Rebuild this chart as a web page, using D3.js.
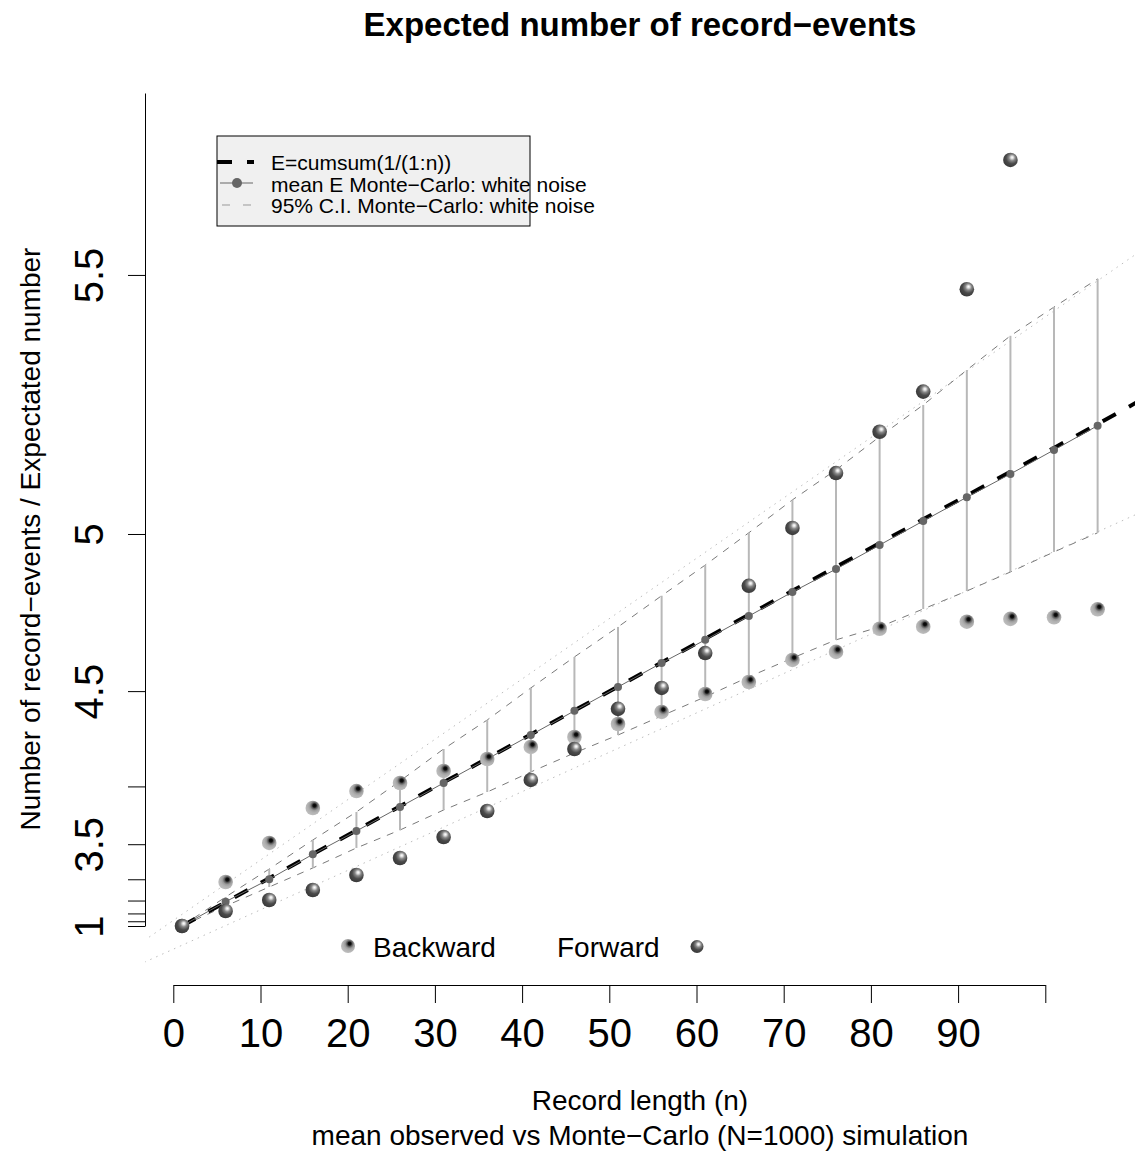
<!DOCTYPE html>
<html>
<head>
<meta charset="utf-8">
<script src="https://cdn.jsdelivr.net/npm/d3@7"></script>
<style>
  body { margin: 0; background: white; }
  text { font-family: "Liberation Sans", Arial, Helvetica, sans-serif; }
</style>
</head>
<body>
<div id="container"></div>
<script>
/* CONSTANTS AND GLOBALS */
const width = 1138;
const height = 1162;
const plot = { left: 145, right: 1135, top: 93, bottom: 985 };

/* DATA */
// record lengths where the simulation was evaluated
const recordLength = [1, 6, 11, 16, 21, 26, 31, 36, 41, 46, 51, 56, 61, 66, 71, 76, 81, 86, 91, 96, 101, 106];
const meanMonteCarlo = [1.0, 2.464, 3.0, 3.38, 3.638, 3.849, 4.023, 4.171, 4.3, 4.415, 4.517, 4.61, 4.692, 4.77, 4.843, 4.908, 4.972, 5.032, 5.088, 5.14, 5.191, 5.24];
const ciUpper = [1.0, 2.603, 3.174, 3.546, 3.809, 4.036, 4.227, 4.373, 4.513, 4.632, 4.735, 4.832, 4.919, 5.003, 5.082, 5.149, 5.218, 5.28, 5.344, 5.403, 5.45, 5.494];
const ciLower = [1.0, 2.318, 2.846, 3.19, 3.457, 3.648, 3.825, 3.961, 4.094, 4.205, 4.3, 4.392, 4.476, 4.557, 4.628, 4.692, 4.735, 4.792, 4.846, 4.9, 4.954, 5.003];
const backward = [1.0, 2.948, 3.514, 3.841, 3.968, 4.023, 4.1, 4.171, 4.238, 4.29, 4.354, 4.41, 4.488, 4.537, 4.621, 4.65, 4.729, 4.736, 4.752, 4.761, 4.766, 4.791];
const forward = [1.0, 2.116, 2.516, 2.779, 3.076, 3.332, 3.578, 3.817, 4.043, 4.227, 4.424, 4.513, 4.646, 4.861, 5.015, 5.142, 5.228, 5.305, 5.478, 5.661, null, null];

// E = cumsum(1/(1:n))
const expectedN = [1, 6, 11, 16, 21, 26, 31, 36, 41, 46, 51, 56, 61, 66, 71, 76, 81, 86, 91, 96, 101, 106, 111, 116];
const expectedE = [1.0, 2.45, 3.0199, 3.3807, 3.6454, 3.8544, 4.0272, 4.1746, 4.3029, 4.4166, 4.5188, 4.6115, 4.6962, 4.7741, 4.8464, 4.9137, 4.9767, 5.036, 5.0919, 5.1448, 5.1951, 5.2434, 5.2895, 5.3334];

// dotted trend lines of the C.I. bounds (in plotted exp units)
const trendN = [-4, 112];
const upperTrend = [-4.17, 256.0];
const lowerTrend = [-11.75, 158.0];

const xTicks = [0, 10, 20, 30, 40, 50, 60, 70, 80, 90, 100];
const xTickLabels = ["0", "10", "20", "30", "40", "50", "60", "70", "80", "90", ""];
const yTicks = [1, 1.5, 2, 2.5, 3, 3.5, 4, 4.5, 5, 5.5];
const yTickLabels = ["1", "", "", "", "", "3.5", "", "4.5", "5", "5.5"];

const legendEntries = ["E=cumsum(1/(1:n))", "mean E Monte\u2212Carlo: white noise", "95% C.I. Monte\u2212Carlo: white noise"];

/* SCALES */
const xScale = d3.scaleLinear()
  .domain([0, 100])
  .range([173.3, 1045.3]);

// the vertical axis is linear in exp(value)
const yExp = d3.scaleLinear()
  .domain([Math.exp(1), Math.exp(5.744)])
  .range([926, plot.top]);
const yScale = v => yExp(Math.exp(v));

/* HTML ELEMENTS */
const svg = d3.select("#container")
  .append("svg")
  .attr("width", width)
  .attr("height", height)
  .style("background-color", "white");

const defs = svg.append("defs");
defs.append("clipPath").attr("id", "clip")
  .append("rect")
  .attr("x", plot.left).attr("y", plot.top)
  .attr("width", plot.right - plot.left).attr("height", plot.bottom - plot.top);

function sphere(id, stops) {
  const g = defs.append("radialGradient").attr("id", id)
    .attr("cx", 0.6).attr("cy", 0.38).attr("fx", 0.62).attr("fy", 0.32).attr("r", 0.62);
  stops.forEach(s => g.append("stop").attr("offset", s[0]).attr("stop-color", s[1]));
}
sphere("gradBackward", [[0, "#000"], [0.18, "#111"], [0.3, "#555"], [0.5, "#999"], [0.7, "#b0b0b0"], [1, "#bdbdbd"]]);
sphere("gradForward", [[0, "#fff"], [0.14, "#e0e0e0"], [0.35, "#888"], [0.65, "#4a4a4a"], [1, "#3a3a3a"]]);

const rows = recordLength.map((n, i) => ({
  n, mean: meanMonteCarlo[i], up: ciUpper[i], lo: ciLower[i], back: backward[i], fwd: forward[i]
}));

const chart = svg.append("g").attr("clip-path", "url(#clip)");

// dotted trend lines
const trendLine = d3.line().x(d => xScale(d[0])).y(d => yExp(d[1]));
[upperTrend, lowerTrend].forEach(t => {
  chart.append("path")
    .datum(trendN.map((n, i) => [n, t[i]]))
    .attr("d", trendLine)
    .attr("fill", "none")
    .attr("stroke", "#bdbdbd")
    .attr("stroke-width", 1)
    .attr("stroke-dasharray", "1.5,5");
});

// dashed C.I. bounds
const valueLine = key => d3.line().x(d => xScale(d.n)).y(d => yScale(d[key]));
["up", "lo"].forEach(key => {
  chart.append("path")
    .datum(rows)
    .attr("d", valueLine(key))
    .attr("fill", "none")
    .attr("stroke", "#7a7a7a")
    .attr("stroke-width", 1)
    .attr("stroke-dasharray", "7,7");
});

// C.I. bars
chart.selectAll(".ci")
  .data(rows)
  .join("line")
  .attr("class", "ci")
  .attr("x1", d => xScale(d.n)).attr("x2", d => xScale(d.n))
  .attr("y1", d => yScale(d.lo)).attr("y2", d => yScale(d.up))
  .attr("stroke", "#b8b8b8")
  .attr("stroke-width", 2);

// expected number
chart.append("path")
  .datum(expectedN.map((n, i) => ({ n, e: expectedE[i] })))
  .attr("d", d3.line().x(d => xScale(d.n)).y(d => yScale(d.e)))
  .attr("fill", "none")
  .attr("stroke", "black")
  .attr("stroke-width", 4)
  .attr("stroke-dasharray", "15,15");

// mean Monte-Carlo
chart.append("path")
  .datum(rows)
  .attr("d", valueLine("mean"))
  .attr("fill", "none")
  .attr("stroke", "#666")
  .attr("stroke-width", 1);

chart.selectAll(".mean")
  .data(rows)
  .join("circle")
  .attr("class", "mean")
  .attr("cx", d => xScale(d.n))
  .attr("cy", d => yScale(d.mean))
  .attr("r", 4)
  .attr("fill", "#666");

// observed record-events
chart.selectAll(".back")
  .data(rows)
  .join("circle")
  .attr("class", "back")
  .attr("cx", d => xScale(d.n))
  .attr("cy", d => yScale(d.back))
  .attr("r", 7.3)
  .attr("fill", "url(#gradBackward)");

chart.selectAll(".fwd")
  .data(rows.filter(d => d.fwd != null))
  .join("circle")
  .attr("class", "fwd")
  .attr("cx", d => xScale(d.n))
  .attr("cy", d => yScale(d.fwd))
  .attr("r", 7.3)
  .attr("fill", "url(#gradForward)");

/* AXES */
const xAxis = svg.append("g")
  .attr("transform", `translate(0,${plot.bottom})`)
  .call(d3.axisBottom(xScale)
    .tickValues(xTicks)
    .tickFormat((d, i) => xTickLabels[i])
    .tickSize(18)
    .tickSizeOuter(0)
    .tickPadding(16));
xAxis.attr("font-size", 40).attr("font-family", null);

const yAxis = svg.append("g")
  .attr("transform", `translate(${plot.left},0)`)
  .call(d3.axisLeft(yExp)
    .tickValues(yTicks.map(Math.exp))
    .tickFormat((d, i) => yTickLabels[i])
    .tickSize(17)
    .tickSizeOuter(0));
yAxis.attr("font-size", 40).attr("font-family", null);
yAxis.selectAll(".tick text")
  .attr("transform", "rotate(-90)")
  .attr("x", 0)
  .attr("y", -42)
  .attr("dy", 0)
  .attr("text-anchor", "middle");

/* TITLES */
svg.append("text")
  .attr("x", (plot.left + plot.right) / 2)
  .attr("y", 36)
  .attr("text-anchor", "middle")
  .attr("font-size", 33)
  .attr("font-weight", "bold")
  .text("Expected number of record\u2212events");

svg.append("text")
  .attr("x", (plot.left + plot.right) / 2)
  .attr("y", 1110)
  .attr("text-anchor", "middle")
  .attr("font-size", 28)
  .text("Record length (n)");

svg.append("text")
  .attr("x", (plot.left + plot.right) / 2)
  .attr("y", 1145)
  .attr("text-anchor", "middle")
  .attr("font-size", 28)
  .text("mean observed vs Monte\u2212Carlo (N=1000) simulation");

svg.append("text")
  .attr("transform", `translate(40,${(plot.top + plot.bottom) / 2}) rotate(-90)`)
  .attr("text-anchor", "middle")
  .attr("font-size", 28)
  .text("Number of record\u2212events / Expectated number");

/* LEGEND (top) */
const legend = svg.append("g").attr("transform", "translate(217,136)");
legend.append("rect")
  .attr("width", 313).attr("height", 90)
  .attr("fill", "#f0f0f0")
  .attr("stroke", "black")
  .attr("stroke-width", 1);

legend.selectAll(".entry")
  .data(legendEntries)
  .join("text")
  .attr("class", "entry")
  .attr("x", 54)
  .attr("y", (d, i) => 34 + i * 21.5)
  .attr("font-size", 21)
  .text(d => d);

legend.append("line")
  .attr("x1", 0).attr("x2", 37).attr("y1", 26).attr("y2", 26)
  .attr("stroke", "black").attr("stroke-width", 4).attr("stroke-dasharray", "15,15");
legend.append("line")
  .attr("x1", 3).attr("x2", 36).attr("y1", 47).attr("y2", 47)
  .attr("stroke", "#666").attr("stroke-width", 1);
legend.append("circle")
  .attr("cx", 20).attr("cy", 47).attr("r", 5).attr("fill", "#666");
legend.append("line")
  .attr("x1", 5).attr("x2", 36).attr("y1", 69).attr("y2", 69)
  .attr("stroke", "#999").attr("stroke-width", 1).attr("stroke-dasharray", "8,13");

/* LEGEND (bottom) */
svg.append("circle").attr("cx", 348).attr("cy", 946).attr("r", 7).attr("fill", "url(#gradBackward)");
svg.append("text").attr("x", 373).attr("y", 957).attr("font-size", 28).text("Backward");
svg.append("text").attr("x", 557).attr("y", 957).attr("font-size", 28).text("Forward");
svg.append("circle").attr("cx", 697).attr("cy", 946.5).attr("r", 6.5).attr("fill", "url(#gradForward)");
</script>
</body>
</html>
